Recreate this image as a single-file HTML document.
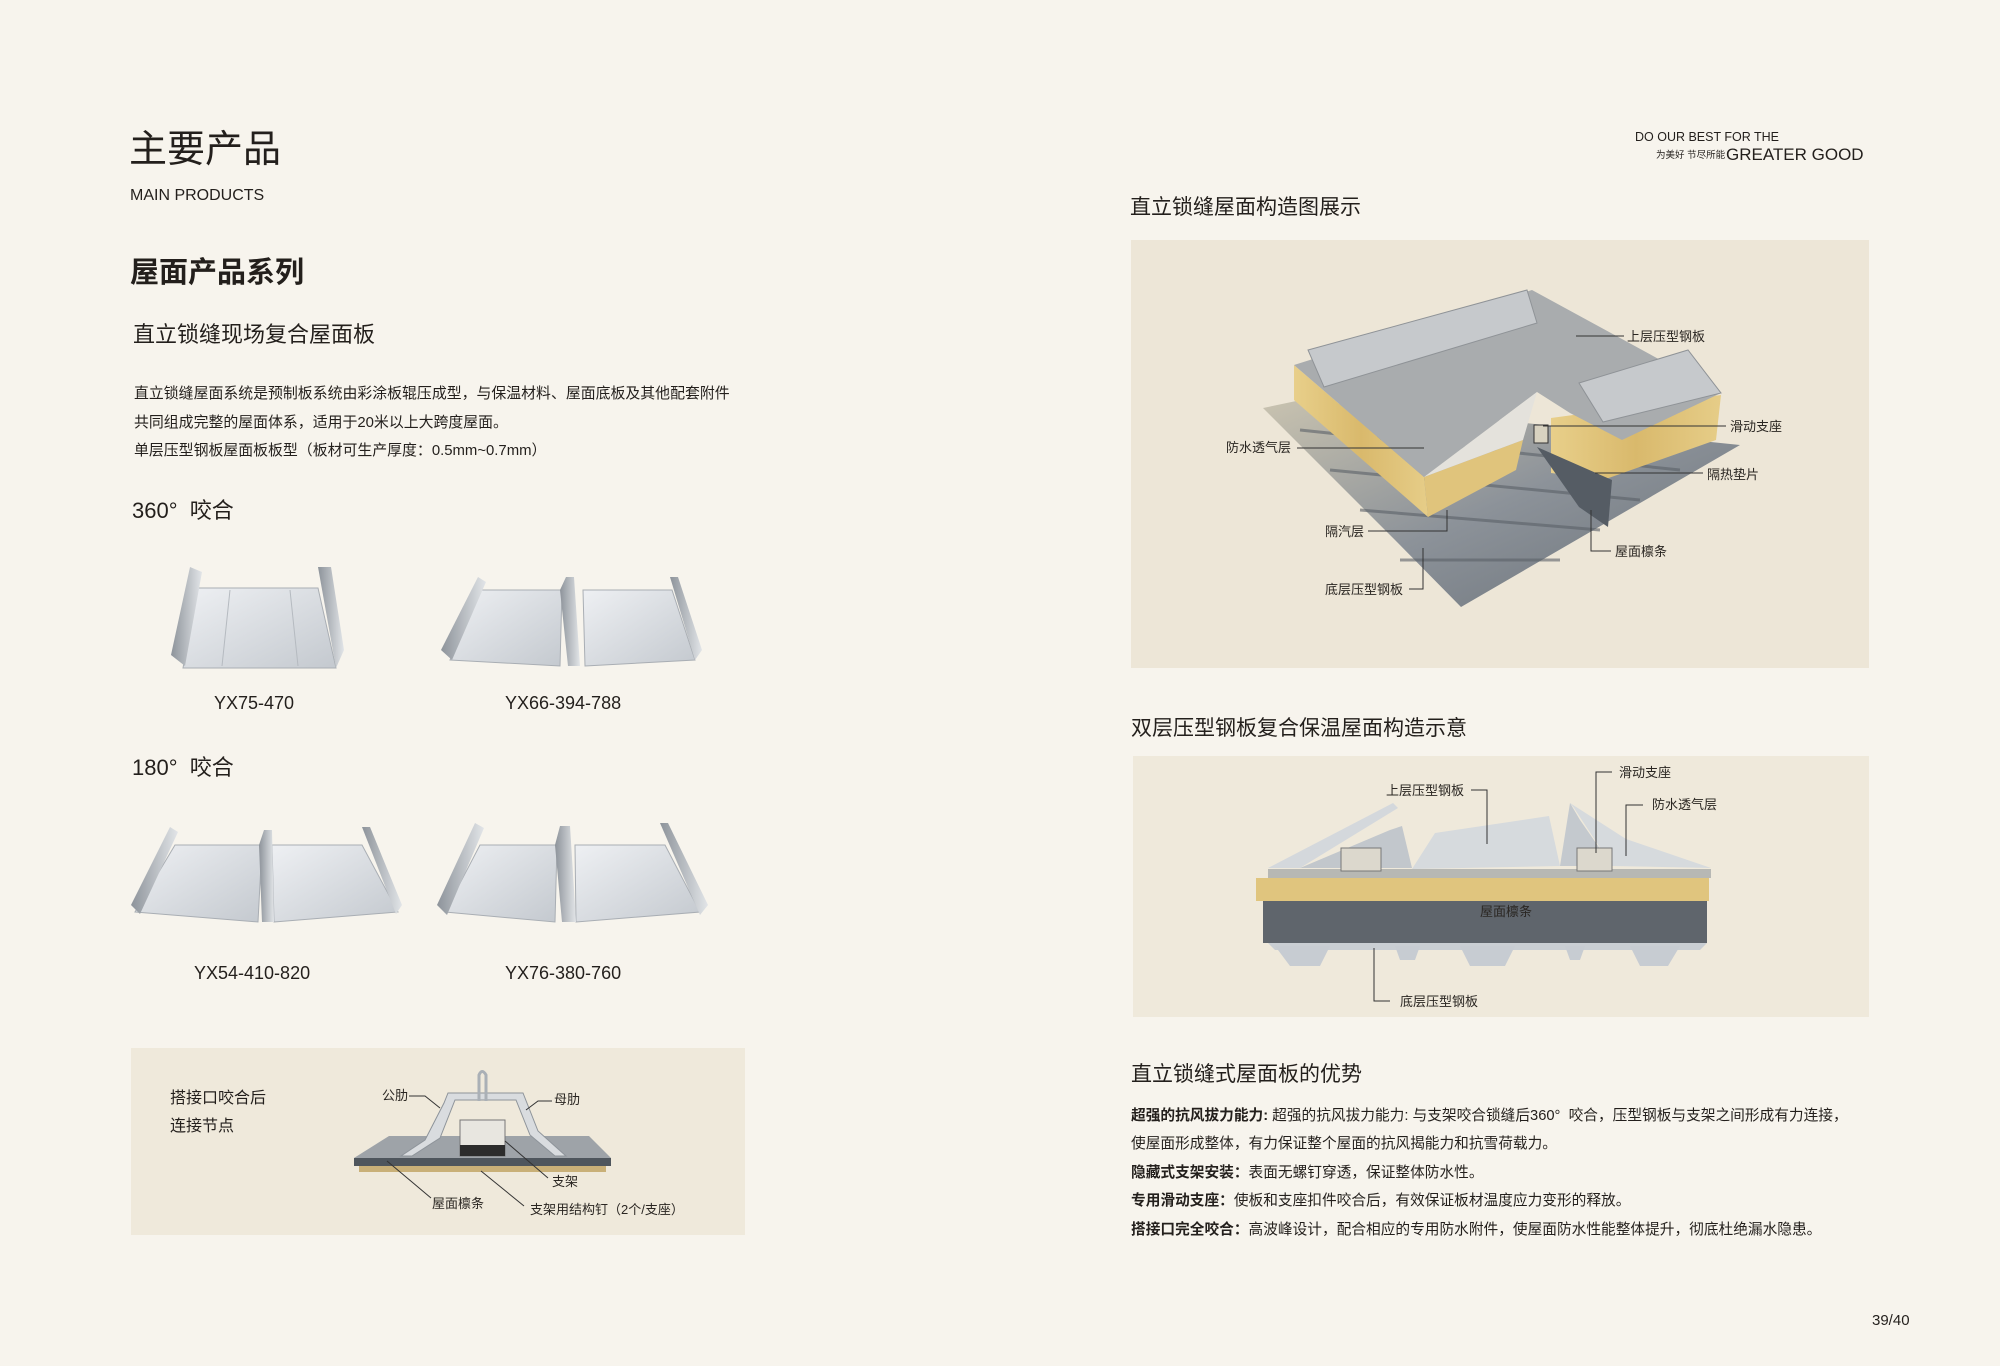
<!DOCTYPE html>
<html><head><meta charset="utf-8">
<style>
*{margin:0;padding:0;box-sizing:border-box}
body{width:2000px;height:1366px;background:#f7f4ed;position:relative;overflow:hidden;font-family:"Liberation Sans","Noto Sans CJK SC",sans-serif;color:#231f1c}
.t{position:absolute;white-space:nowrap;line-height:1}
.box{position:absolute}
.lb{font-size:13px;fill:#2a2622;font-family:"Liberation Sans","Noto Sans CJK SC",sans-serif}
</style></head><body>

<div class="t" style="left:129px;top:131px;font-size:38px">主要产品</div>
<div class="t" style="left:130px;top:188px;font-size:16px">MAIN PRODUCTS</div>
<div class="t" style="left:130px;top:259px;font-size:29px;font-weight:bold">屋面产品系列</div>
<div class="t" style="left:133px;top:324px;font-size:22px">直立锁缝现场复合屋面板</div>
<div class="t" style="left:134px;top:380px;font-size:14.9px;line-height:28.5px">直立锁缝屋面系统是预制板系统由彩涂板辊压成型，与保温材料、屋面底板及其他配套附件<br>共同组成完整的屋面体系，适用于20米以上大跨度屋面。<br>单层压型钢板屋面板板型（板材可生产厚度：0.5mm~0.7mm）</div>
<div class="t" style="left:132px;top:500px;font-size:22px">360°&nbsp; 咬合</div>
<div class="t" style="left:132px;top:757px;font-size:22px">180°&nbsp; 咬合</div>
<div class="t" style="left:214px;top:694px;font-size:18px">YX75-470</div>
<div class="t" style="left:505px;top:694px;font-size:18px">YX66-394-788</div>
<div class="t" style="left:194px;top:964px;font-size:18px">YX54-410-820</div>
<div class="t" style="left:505px;top:964px;font-size:18px">YX76-380-760</div>

<svg class="box" style="left:0;top:0" width="760" height="960">
<defs>
<linearGradient id="pg" x1="0" y1="0" x2="1" y2="1"><stop offset="0" stop-color="#eef0f3"/><stop offset="1" stop-color="#c4c9cf"/></linearGradient>
<linearGradient id="rg" x1="0" y1="0" x2="1" y2="0"><stop offset="0" stop-color="#8d939a"/><stop offset="1" stop-color="#e2e5e8"/></linearGradient>
</defs>
<polygon points="183,668 336,668 318,588 198,588" fill="url(#pg)" stroke="#a9aeb4"/>
<polygon points="171,655 190,567 202,572 185,666" fill="url(#rg)"/>
<polygon points="318,567 331,567 344,650 336,668" fill="url(#rg)"/>
<line x1="230" y1="590" x2="222" y2="666" stroke="#b5bac0"/><line x1="290" y1="590" x2="298" y2="666" stroke="#b5bac0"/>
<polygon points="450,660 560,666 562,590 480,590" fill="url(#pg)" stroke="#a9aeb4"/>
<polygon points="585,666 695,660 672,590 583,590" fill="url(#pg)" stroke="#a9aeb4"/>
<polygon points="441,650 478,577 486,582 452,660" fill="url(#rg)"/>
<polygon points="560,590 566,577 574,577 580,666 568,666" fill="url(#rg)"/>
<polygon points="670,577 678,577 702,650 695,660" fill="url(#rg)"/>
<polygon points="135,912 258,922 262,845 175,845" fill="url(#pg)" stroke="#a9aeb4"/>
<polygon points="274,922 398,912 362,845 272,845" fill="url(#pg)" stroke="#a9aeb4"/>
<polygon points="131,905 170,827 178,832 140,914" fill="url(#rg)"/>
<polygon points="259,845 264,830 272,830 274,922 262,922" fill="url(#rg)"/>
<polygon points="362,827 370,827 402,905 396,914" fill="url(#rg)"/>
<polygon points="445,912 555,922 557,845 480,845" fill="url(#pg)" stroke="#a9aeb4"/>
<polygon points="576,922 700,912 665,845 575,845" fill="url(#pg)" stroke="#a9aeb4"/>
<polygon points="437,905 475,823 484,828 447,915" fill="url(#rg)"/>
<polygon points="555,845 560,826 570,826 576,922 562,922" fill="url(#rg)"/>
<polygon points="660,823 668,823 708,905 700,915" fill="url(#rg)"/>
</svg>

<div class="box" style="left:131px;top:1048px;width:614px;height:187px;background:#efe9db"></div>
<div class="t" style="left:170px;top:1085px;font-size:16px;line-height:28px">搭接口咬合后<br>连接节点</div>
<svg class="box" style="left:131px;top:1048px" width="614" height="187">
<g transform="translate(-131,-1048)">
<polygon points="354,1158 389,1136 589,1136 611,1158" fill="#9ea3a8"/>
<rect x="354" y="1158" width="257" height="8" fill="#4f565d"/>
<rect x="359" y="1166" width="247" height="6" fill="#c9b078"/>
<polygon points="401,1156 425,1140 444,1103 448,1093 523,1093 538,1131 566,1156 555,1156 530,1135 516,1100 455,1100 440,1138 412,1156" fill="#d9dcdf" stroke="#8e949a"/>
<rect x="460" y="1120" width="45" height="36" fill="#e8e6e0" stroke="#777"/>
<rect x="460" y="1145" width="45" height="11" fill="#2c2c2c"/>
<path d="M479,1101 L479,1075 Q482,1068 486,1075 L486,1101" fill="none" stroke="#aab0b6" stroke-width="3"/>
</g>
<g transform="translate(-131,-1048)" stroke="#333" stroke-width="1" fill="none">
<polyline points="409,1096 425,1096 440,1108"/>
<polyline points="552,1101 538,1101 526,1110"/>
<line x1="505" y1="1141" x2="548" y2="1178"/>
<line x1="387" y1="1161" x2="431" y2="1198"/>
<line x1="481" y1="1171" x2="524" y2="1206"/>
</g>
<g transform="translate(-131,-1048)">
<text class="lb" x="382" y="1100">公肋</text>
<text class="lb" x="554" y="1104">母肋</text>
<text class="lb" x="552" y="1186">支架</text>
<text class="lb" x="432" y="1208">屋面檩条</text>
<text class="lb" x="530" y="1214">支架用结构钉（2个/支座）</text>
</g>
</svg>

<div class="t" style="left:1635px;top:131px;font-size:12.5px">DO OUR BEST FOR THE</div>
<div class="t" style="left:1656px;top:151px;font-size:9.5px">为美好 节尽所能</div>
<div class="t" style="left:1726px;top:146px;font-size:17px">GREATER GOOD</div>

<div class="t" style="left:1130px;top:197px;font-size:21px">直立锁缝屋面构造图展示</div>
<div class="box" style="left:1131px;top:240px;width:738px;height:428px;background:#ede6d7"></div>
<svg class="box" style="left:1131px;top:240px" width="738" height="428">
<defs>
<linearGradient id="ins" x1="0" y1="0" x2="1" y2="0"><stop offset="0" stop-color="#e8cf8a"/><stop offset="0.5" stop-color="#d9b96c"/><stop offset="1" stop-color="#e6cd88"/></linearGradient>
<linearGradient id="bs" x1="0" y1="0" x2="1" y2="1"><stop offset="0" stop-color="#c9c3b0"/><stop offset="0.5" stop-color="#8c9299"/><stop offset="1" stop-color="#6a7178"/></linearGradient>
</defs>
<g transform="translate(-1131,-240)">
<polygon points="1263,408 1301,400 1740,445 1461,607 1395,540" fill="url(#bs)"/>
<g stroke="#5b6168" stroke-width="3" opacity="0.6"><line x1="1300" y1="430" x2="1680" y2="470"/><line x1="1330" y1="470" x2="1640" y2="500"/><line x1="1360" y1="510" x2="1600" y2="530"/><line x1="1400" y1="560" x2="1560" y2="560"/></g>
<polygon points="1294,365 1294,400 1428,517 1424,477" fill="url(#ins)"/>
<polygon points="1424,477 1523,440 1516,470 1428,517" fill="#e0c47c"/>
<polygon points="1551,418 1721,395 1716,440 1603,480 1551,473" fill="url(#ins)"/>
<polygon points="1294,365 1532,290 1721,393 1622,440 1570,413 1537,392 1424,477" fill="#a9acae"/>
<polygon points="1424,477 1537,392 1523,440" fill="#e4e2dc"/>
<polygon points="1308,350 1527,290 1537,323 1324,387" fill="#c6c9cc" stroke="#8f9397"/>
<polygon points="1579,383 1688,350 1721,393 1603,422" fill="#c6c9cc" stroke="#8f9397"/>
<polygon points="1537,447 1612,480 1608,527 1579,507" fill="#555c64"/>
<rect x="1534" y="425" width="14" height="18" fill="#d8d2c0" stroke="#333"/>
</g>
<g transform="translate(-1131,-240)" stroke="#333" stroke-width="1" fill="none">
<line x1="1576" y1="336" x2="1624" y2="336"/>
<line x1="1543" y1="426" x2="1726" y2="426"/>
<line x1="1297" y1="448" x2="1424" y2="448"/>
<line x1="1595" y1="473" x2="1703" y2="473"/>
<polyline points="1368,531 1447,531 1447,510"/>
<polyline points="1591,510 1591,551 1611,551"/>
<polyline points="1409,589 1423,589 1423,548"/>
</g>
<g transform="translate(-1131,-240)">
<text class="lb" x="1627" y="341">上层压型钢板</text>
<text class="lb" x="1730" y="431">滑动支座</text>
<text class="lb" x="1226" y="452">防水透气层</text>
<text class="lb" x="1707" y="479">隔热垫片</text>
<text class="lb" x="1325" y="536">隔汽层</text>
<text class="lb" x="1615" y="556">屋面檩条</text>
<text class="lb" x="1325" y="594">底层压型钢板</text>
</g>
</svg>

<div class="t" style="left:1131px;top:718px;font-size:21px">双层压型钢板复合保温屋面构造示意</div>
<div class="box" style="left:1133px;top:756px;width:736px;height:261px;background:#efe9db"></div>
<svg class="box" style="left:1133px;top:756px" width="736" height="261">
<g transform="translate(-1133,-756)">
<polygon points="1268,943 1707,943 1700,950 1275,950" fill="#c9ced3"/>
<g fill="#c7ccd2"><polygon points="1275,946 1330,946 1320,966 1290,966"/><polygon points="1395,946 1420,946 1415,960 1400,960"/><polygon points="1460,946 1515,946 1505,966 1470,966"/><polygon points="1565,946 1585,946 1580,960 1570,960"/><polygon points="1630,946 1680,946 1668,966 1640,966"/></g>
<rect x="1263" y="901" width="444" height="42" fill="#5f656c"/>
<rect x="1256" y="878" width="453" height="23" fill="#e0c57e"/>
<rect x="1268" y="869" width="443" height="9" fill="#b7b8b4"/>
<polygon points="1268,868 1393,803 1398,808 1300,868" fill="#d4d8dc"/>
<polygon points="1300,868 1412,868 1402,826 1390,830" fill="#c2c7cc"/>
<polygon points="1412,869 1435,833 1549,816 1560,866" fill="#d6dadd"/>
<polygon points="1560,866 1612,866 1580,820 1570,803" fill="#c4c9ce"/>
<polygon points="1612,866 1711,868 1626,839 1570,803 1574,808" fill="#d6dadd"/>
<rect x="1341" y="848" width="40" height="23" fill="#dcd8cd" stroke="#777"/>
<rect x="1577" y="848" width="35" height="23" fill="#dcd8cd" stroke="#777"/>
</g>
<g transform="translate(-1133,-756)" stroke="#333" stroke-width="1" fill="none">
<polyline points="1471,790 1487,790 1487,844"/>
<polyline points="1612,772 1596,772 1596,853"/>
<polyline points="1643,805 1626,805 1626,856"/>
<polyline points="1374,948 1374,1001 1390,1001"/>
</g>
<g transform="translate(-1133,-756)">
<text class="lb" x="1386" y="795">上层压型钢板</text>
<text class="lb" x="1619" y="777">滑动支座</text>
<text class="lb" x="1652" y="809">防水透气层</text>
<text class="lb" x="1480" y="916">屋面檩条</text>
<text class="lb" x="1400" y="1006">底层压型钢板</text>
</g>
</svg>

<div class="t" style="left:1131px;top:1064px;font-size:21px">直立锁缝式屋面板的优势</div>
<div class="t" style="left:1131px;top:1102px;font-size:14.7px;line-height:28.4px"><b>超强的抗风拔力能力:</b> 超强的抗风拔力能力: 与支架咬合锁缝后360°&nbsp; 咬合，压型钢板与支架之间形成有力连接，<br>使屋面形成整体，有力保证整个屋面的抗风揭能力和抗雪荷载力。<br><b>隐藏式支架安装：</b>表面无螺钉穿透，保证整体防水性。<br><b>专用滑动支座：</b>使板和支座扣件咬合后，有效保证板材温度应力变形的释放。<br><b>搭接口完全咬合：</b>高波峰设计，配合相应的专用防水附件，使屋面防水性能整体提升，彻底杜绝漏水隐患。</div>

<div class="t" style="left:1872px;top:1313px;font-size:15px">39/40</div>
</body></html>
